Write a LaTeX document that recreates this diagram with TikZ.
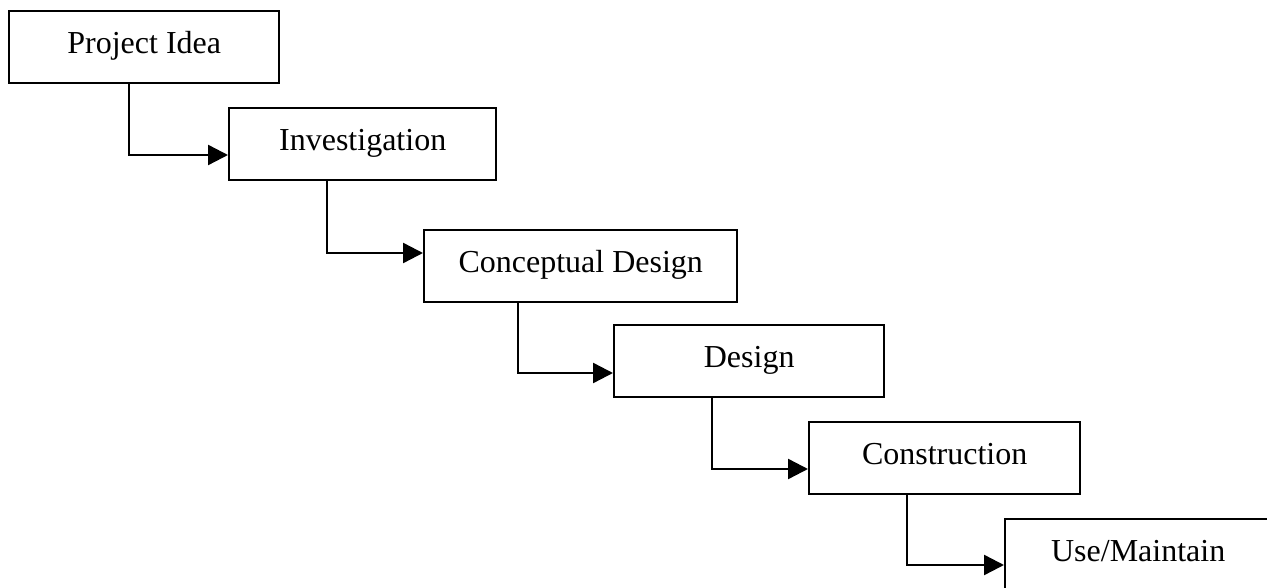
\documentclass[tikz,border=0pt]{standalone}
\usepackage{fontspec}
\setmainfont{Liberation Serif}
\usetikzlibrary{arrows.meta,calc}
\begin{document}
\begin{tikzpicture}[x=1pt,y=-1pt,
  stagebox/.style={draw=black,line width=2.4pt,fill=white,inner sep=0pt,
    minimum height=72pt,anchor=north west,
    text height=20pt,text depth=7pt,
    font=\fontsize{32}{38}\selectfont},
  flow/.style={draw=black,line width=2.4pt,
    -{Triangle[length=20pt,width=20pt]}}]
  \clip (0,0) rectangle (1267,588);
  \fill[white] (0,0) rectangle (1267,588);

  % project stages, stepping down to the right
  \node[stagebox,minimum width=270pt] (idea)   at (8,10)    {Project Idea};
  \node[stagebox,minimum width=267pt] (inv)    at (228,107) {Investigation};
  \node[stagebox,minimum width=313pt] (concept) at (423,229) {Conceptual Design};
  \node[stagebox,minimum width=270pt] (design) at (613,324) {Design};
  \node[stagebox,minimum width=271pt] (constr) at (808,421) {Construction};
  \node[stagebox,minimum width=266pt] (use)    at (1004,518) {Use/Maintain};

  % elbow connectors between consecutive stages
  \draw[flow] ($(idea.south west)+(121,0)$)   |- ($(inv.north west)+(0,48)$);
  \draw[flow] ($(inv.south west)+(99,0)$)     |- ($(concept.north west)+(0,24)$);
  \draw[flow] ($(concept.south west)+(95,0)$) |- ($(design.north west)+(0,49)$);
  \draw[flow] ($(design.south west)+(99,0)$)  |- ($(constr.north west)+(0,48)$);
  \draw[flow] ($(constr.south west)+(99,0)$)  |- ($(use.north west)+(0,47)$);
\end{tikzpicture}
\end{document}
